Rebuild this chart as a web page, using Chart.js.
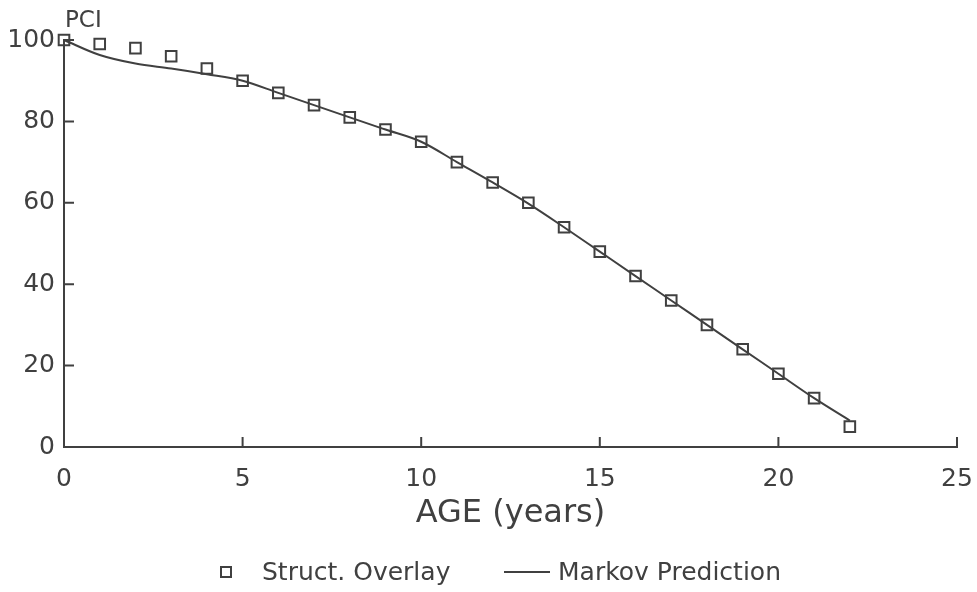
<!DOCTYPE html>
<html>
<head>
<meta charset="utf-8">
<title>PCI vs age</title>
<script src="https://cdn.jsdelivr.net/npm/chart.js@4/dist/chart.umd.min.js"></script>
<style>
    body { margin: 0; background: #fff; }
    canvas { display: block; }
</style>
</head>
<body>
<canvas id="pci-chart" width="977" height="592"></canvas>
<script>
// Pavement condition index by age (years)
const ages = [0, 1, 2, 3, 4, 5, 6, 7, 8, 9, 10, 11, 12, 13, 14, 15, 16, 17, 18, 19, 20, 21, 22];
const overlayPCI = [100, 99, 98, 96, 93, 90, 87, 84, 81, 78, 75, 70, 65, 60, 54, 48, 42, 36, 30, 24, 18, 12, 5];
const markovPCI = [100, 96.3, 94.2, 93, 91.6, 90, 87, 84, 81, 78, 75, 70, 65, 59.8, 54, 48, 42, 36, 30, 24, 18, 12, 6.5];

const xTicks = [0, 5, 10, 15, 20, 25];
const yTicks = [0, 20, 40, 60, 80, 100];

const ink = "#404040";
const fontFamily = "'DejaVu Sans', sans-serif";

Chart.defaults.font.family = fontFamily;
Chart.defaults.color = ink;

// inward tick marks, the PCI caption and the legend underneath
const decorations = {
    id: "decorations",
    afterDraw(chart) {
        const ctx = chart.ctx;
        const x = chart.scales.x;
        const y = chart.scales.y;
        const area = chart.chartArea;

        ctx.save();
        ctx.strokeStyle = ink;
        ctx.lineWidth = 2;
        ctx.beginPath();
        xTicks.forEach((v) => {
            if (v === 0) return;
            const px = x.getPixelForValue(v);
            ctx.moveTo(px, area.bottom);
            ctx.lineTo(px, area.bottom - 10);
        });
        yTicks.forEach((v) => {
            if (v === 0) return;
            const py = y.getPixelForValue(v);
            ctx.moveTo(area.left, py);
            ctx.lineTo(area.left + 10, py);
        });
        ctx.stroke();

        ctx.fillStyle = ink;
        ctx.font = "23px " + fontFamily;
        ctx.textBaseline = "alphabetic";
        ctx.textAlign = "left";
        ctx.fillText("PCI", area.left + 1, 27);

        // legend
        const ly = 572;
        ctx.lineWidth = 2;
        ctx.strokeRect(221, ly - 5, 10, 10);
        ctx.beginPath();
        ctx.moveTo(504, ly);
        ctx.lineTo(550, ly);
        ctx.stroke();
        ctx.font = "25px " + fontFamily;
        ctx.textBaseline = "middle";
        ctx.fillText("Struct. Overlay", 262, ly + 1);
        ctx.fillText("Markov Prediction", 558, ly + 1);
        ctx.restore();
    },
};

const ctx = document.getElementById("pci-chart").getContext("2d");
const pciChart = new Chart(ctx, {
    type: "scatter",
    data: {
        datasets: [
            {
                label: "Markov Prediction",
                data: ages.map((a, i) => ({ x: a, y: markovPCI[i] })),
                showLine: true,
                borderColor: ink,
                borderWidth: 2,
                pointRadius: 0,
                cubicInterpolationMode: "monotone",
                fill: false,
            },
            {
                label: "Struct. Overlay",
                data: ages.map((a, i) => ({ x: a, y: overlayPCI[i] })),
                showLine: false,
                pointStyle: "rect",
                pointRadius: 7.5,
                pointBorderWidth: 2,
                pointBorderColor: ink,
                pointBackgroundColor: "rgba(0,0,0,0)",
            },
        ],
    },
    options: {
        responsive: false,
        animation: false,
        clip: false,
        layout: {
            padding: { top: 40, right: 20, bottom: 59, left: 0 },
        },
        plugins: {
            legend: { display: false },
            tooltip: { enabled: false },
        },
        scales: {
            x: {
                type: "linear",
                min: 0,
                max: 25,
                afterBuildTicks: (scale) => {
                    scale.ticks = xTicks.map((v) => ({ value: v }));
                },
                afterFit: (scale) => {
                    scale.height = 86;
                    scale.paddingLeft = 0;
                    scale.paddingRight = 0;
                },
                grid: { display: false, drawTicks: false },
                border: { display: true, color: ink, width: 2 },
                ticks: {
                    padding: 17,
                    font: { size: 25 },
                    color: ink,
                    maxRotation: 0,
                },
                title: {
                    display: true,
                    text: "AGE (years)",
                    font: { size: 32 },
                    color: ink,
                    padding: { top: 1, bottom: 0 },
                },
            },
            y: {
                type: "linear",
                min: 0,
                max: 100,
                afterBuildTicks: (scale) => {
                    scale.ticks = yTicks.map((v) => ({ value: v }));
                },
                afterFit: (scale) => {
                    scale.width = 64;
                    scale.paddingTop = 0;
                    scale.paddingBottom = 0;
                },
                grid: { display: false, drawTicks: false },
                border: { display: true, color: ink, width: 2 },
                ticks: {
                    padding: 9,
                    font: { size: 25 },
                    color: ink,
                },
            },
        },
    },
    plugins: [decorations],
});
</script>
</body>
</html>
